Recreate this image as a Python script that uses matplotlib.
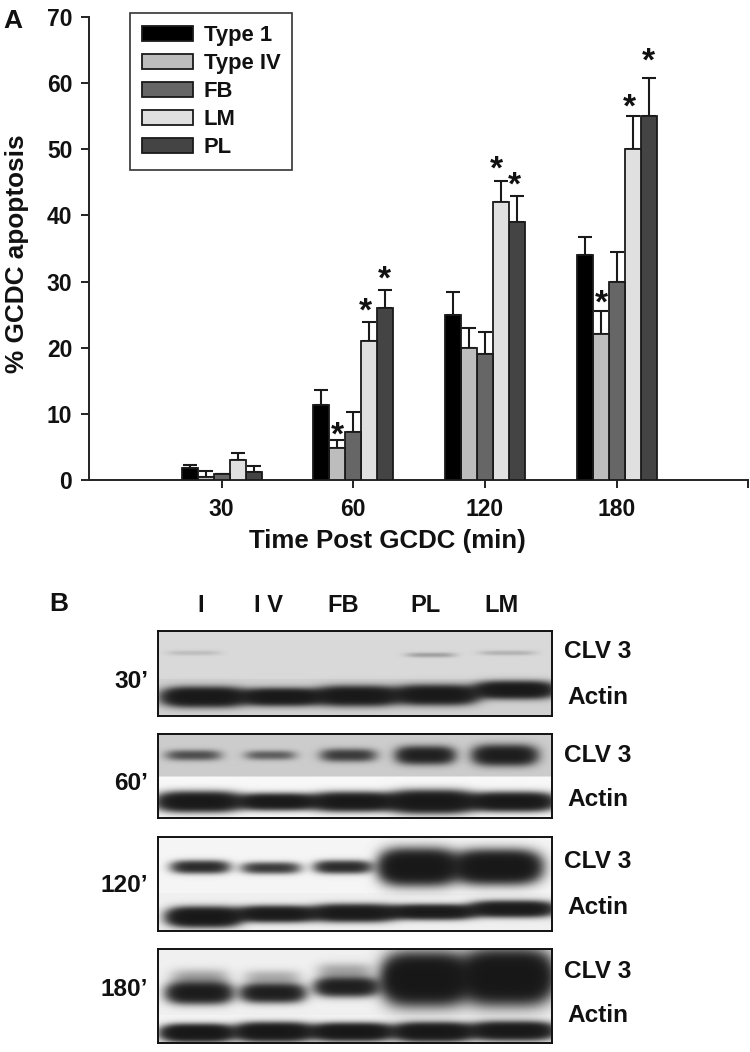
import numpy as np
import matplotlib
matplotlib.use("Agg")
import matplotlib.pyplot as plt

plt.rcParams['font.family'] = ['Liberation Sans', 'DejaVu Sans']
plt.rcParams['font.weight'] = 'bold'

W, H = 750, 1052
times = ['30', '60', '120', '180']
series = ['Type 1', 'Type IV', 'FB', 'LM', 'PL']
colors = ['#000000', '#bdbdbd', '#666666', '#e0e0e0', '#444444']
means = {
    'Type 1':  [1.8, 11.3, 25, 34],
    'Type IV': [0.5, 4.8, 20, 22],
    'FB':      [0.9, 7.2, 19, 30],
    'LM':      [3.0, 21, 42, 50],
    'PL':      [1.2, 26, 39, 55],
}
err_tops = {
    'Type 1':  [2.2, 13.6, 28.4, 36.8],
    'Type IV': [1.3, 6.0, 23.0, 25.5],
    'FB':      [0.9, 10.3, 22.4, 34.5],
    'LM':      [4.1, 23.9, 45.2, 55.0],
    'PL':      [2.1, 28.8, 42.9, 60.8],
}
# star: (group index, series index, y value of glyph centre, x shift in points)
stars = [(1, 1, 7.4, 0.5), (1, 3, 26.2, -3), (1, 4, 31.1, -0.7), (2, 3, 47.6, -3),
         (2, 4, 45.2, -1.5), (3, 1, 27.4, 0.7), (3, 3, 57.0, -2.2), (3, 4, 64.0, 0)]

lane_names = ['I', 'I V', 'FB', 'PL', 'LM']
lane_label_x = [201, 269, 343, 425, 501]
blot_times = ["30\u2019", "60\u2019", "120\u2019", "180\u2019"]
blot_boxes = [(631, 716), (734, 818), (837, 931), (949, 1043)]
blot_x = (158, 552)
# background: (upper grey, lower grey, y of the splice)
blot_bg = [(0.85, 0.82, 679), (0.80, 0.97, 777), (0.96, 0.94, 893), (0.94, 0.96, 1015)]
# bands: x0, x1, y centre, half height, strength
clv_bands = [
    [(168, 220, 653, 2.5, .14), (407, 455, 655, 2.5, .3), (480, 535, 653, 2.5, .2)],
    [(167, 220, 756, 5, .85), (246, 295, 756, 4.5, .7), (322, 375, 756, 6, 1.1),
     (398, 453, 756, 8, 1.8), (475, 535, 756, 9, 2.0)],
    [(173, 228, 867, 6, 1.5), (243, 299, 868, 5.5, 1.2), (316, 370, 867, 6, 1.5),
     (383, 453, 867, 15, 3.0), (458, 537, 867, 14, 3.0)],
    [(169, 230, 993, 9.5, 2.2), (243, 303, 993, 8.5, 2.0), (317, 376, 987, 8.5, 2.0),
     (387, 463, 979, 21, 3.5), (467, 548, 977, 22, 3.5)],
]
smear_bands = [
    [], [], [],
    [(172, 228, 977, 8, .35), (245, 300, 977, 7, .3), (318, 372, 971, 8, .35)],
]
actin_bands = [
    [(165, 243, 697, 8.5, 2.6), (246, 318, 697, 7.5, 2.5), (319, 395, 696, 8.5, 2.5),
     (398, 475, 695, 8.5, 2.5), (478, 552, 690, 7.5, 2.5)],
    [(160, 238, 802, 8.5, 2.6), (242, 313, 802, 7, 2.5), (315, 392, 802, 8, 2.6),
     (393, 470, 802, 9.5, 2.8), (472, 552, 802, 8, 2.6)],
    [(170, 238, 917, 8.5, 2.8), (240, 313, 914, 7, 2.4), (315, 393, 913, 7.5, 2.5),
     (393, 472, 912, 6.5, 2.4), (473, 552, 909, 7, 2.4)],
    [(164, 231, 1033, 7.5, 2.8), (238, 309, 1032, 8, 2.8), (314, 390, 1032, 7.5, 2.8),
     (397, 469, 1032, 8, 2.8), (473, 552, 1031, 8, 2.6)],
]
clv_label_y = [652, 755, 862, 971]
actin_label_y = [697, 800, 907, 1015]
time_label_y = [681, 783, 886, 990]

fig = plt.figure(figsize=(W / 100, H / 100), dpi=100, facecolor='white')


def box(x0, y0, x1, y1):
    return [x0 / W, 1 - y1 / H, (x1 - x0) / W, (y1 - y0) / H]


def px(x, y, s, size, ha='center', **kw):
    fig.text(x / W, 1 - y / H, s, fontsize=size, ha=ha, va='center', color='#111111', **kw)


# --- Panel A
ax = fig.add_axes(box(89, 17, 748, 480))
step = 131.7
bar_w = 16 / step
xs = np.arange(len(times))
x_end = (748 - 221.5) / step
ax.set_xlim((89 - 221.5) / step, x_end)
ax.set_ylim(0, 70)
handles = []
for i, name in enumerate(series):
    pos = xs + (i - 2) * bar_w
    h = ax.bar(pos, means[name], bar_w, color=colors[i], edgecolor='#1a1a1a',
               linewidth=1.3, label=name, zorder=3 - 0.01 * i)
    handles.append(h)
    lower = np.zeros(4)
    upper = np.array(err_tops[name]) - np.array(means[name])
    ax.errorbar(pos, means[name], yerr=[lower, upper], fmt='none', ecolor='#1a1a1a',
                elinewidth=1.5, capsize=5, capthick=1.5, zorder=2)
for g, s, y, dx in stars:
    ax.annotate('*', (xs[g] + (s - 2) * bar_w, y), xytext=(dx, -10), textcoords='offset points',
                ha='center', va='baseline', fontsize=24, color='#111111')
for side in ('top', 'right'):
    ax.spines[side].set_visible(False)
for side in ('left', 'bottom'):
    ax.spines[side].set_linewidth(1.4)
    ax.spines[side].set_color('#222222')
ax.set_xticks(list(xs) + [x_end], times + [''])
ax.set_yticks(range(0, 71, 10))
ax.tick_params(axis='both', length=6, width=1.4, color='#222222', labelsize=16.5,
               labelcolor='#111111', pad=6)
ax.tick_params(axis='x', pad=7)
fig.text(387 / W, 1 - 541 / H, 'Time Post GCDC (min)', fontsize=18.6, ha='center', va='center', color='#111111')
fig.text(17 / W, 1 - 254 / H, '% GCDC apoptosis', fontsize=18.8, ha='center', va='center',
         rotation=90, color='#111111')
leg = ax.legend(handles=handles, loc='upper left',
                bbox_to_anchor=((130 - 89) / 659, (480 - 13) / 463),
                fontsize=15.8, frameon=True, fancybox=False, edgecolor='#333333', framealpha=1,
                handlelength=2.3, handleheight=0.66, handletextpad=0.5, labelspacing=0.32,
                borderpad=0.55, borderaxespad=0, labelcolor='#111111')
leg.get_frame().set_linewidth(1.2)
px(3, 21, 'A', 19, ha='left')
px(49, 604, 'B', 19, ha='left')

# --- Panel B
for k, (y0, y1) in enumerate(blot_boxes):
    bx = fig.add_axes(box(blot_x[0], y0, blot_x[1], y1))
    xg, yg = np.meshgrid(np.arange(blot_x[0], blot_x[1]) + .5, np.arange(y0, y1) + .5)
    up, low, split = blot_bg[k]
    bg = np.where(yg < split, up, low)
    d = np.zeros_like(xg)
    for x0, x1, yc, hh, st in clv_bands[k] + smear_bands[k] + actin_bands[k]:
        cx, wx = (x0 + x1) / 2, (x1 - x0) / 2 * 1.02
        d += st * np.exp(-np.abs((xg - cx) / wx) ** 4) * np.exp(-np.abs((yg - yc) / hh) ** 2.2)
    d = np.tanh(d)
    img = bg * (1 - d) + 0.09 * d
    bx.imshow(img, cmap='gray', vmin=0, vmax=1, aspect='auto', interpolation='bilinear',
              extent=(blot_x[0], blot_x[1], y1, y0))
    bx.set_xticks([])
    bx.set_yticks([])
    for sp in bx.spines.values():
        sp.set_linewidth(1.4)
        sp.set_color('#111111')
    px(598, clv_label_y[k], 'CLV 3', 17.6)
    px(598, actin_label_y[k], 'Actin', 17.6)
    px(148, time_label_y[k], blot_times[k], 17.6, ha='right')
for x, s in zip(lane_label_x, lane_names):
    px(x, 606, s, 17)

fig.savefig('out.png', dpi=100)
